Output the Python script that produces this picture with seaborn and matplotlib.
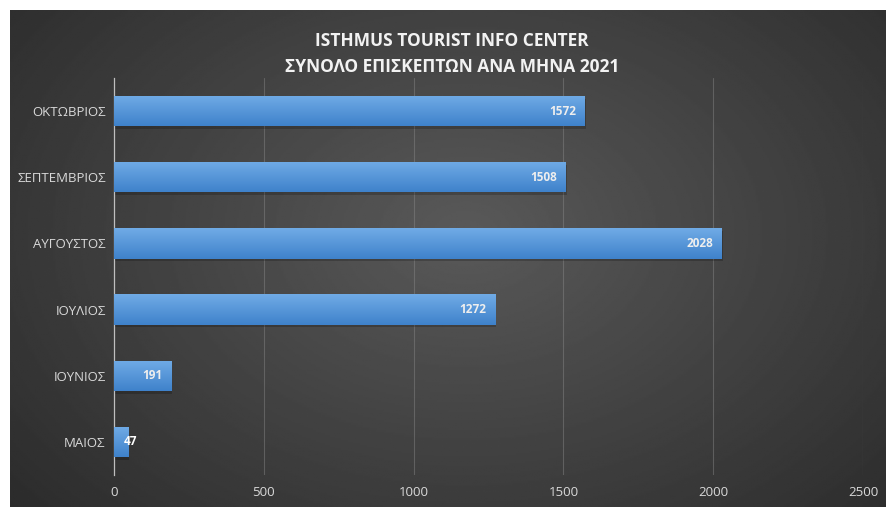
import matplotlib
matplotlib.use("Agg")
import matplotlib.pyplot as plt
import numpy as np
import pandas as pd
import seaborn as sns

MONTHS = ["ΟΚΤΩΒΡΙΟΣ", "ΣΕΠΤΕΜΒΡΙΟΣ", "ΑΥΓΟΥΣΤΟΣ", "ΙΟΥΛΙΟΣ", "ΙΟΥΝΙΟΣ", "ΜΑΙΟΣ"]
VISITORS = [1572, 1508, 2028, 1272, 191, 47]
X_TICKS = [0, 500, 1000, 1500, 2000, 2500]
TITLE = "ISTHMUS TOURIST INFO CENTER\nΣΥΝΟΛΟ ΕΠΙΣΚΕΠΤΩΝ ΑΝΑ ΜΗΝΑ 2021"

W, H = 887, 507

sns.set_theme(style="white")
plt.rcParams["font.family"] = ["Open Sans", "DejaVu Sans"]

df = pd.DataFrame({"month": MONTHS, "visitors": VISITORS})

fig = plt.figure(figsize=(W / 100, H / 100), dpi=100)
fig.patch.set_facecolor("white")

# dark radial background (Excel chart area), white margin top/left
bg = fig.add_axes([10 / W, 0, (W - 10) / W, (H - 10) / H], zorder=0)
gy, gx = np.mgrid[0:1:300j, 0:1:500j]
r = np.sqrt(((gx - 0.52) / 0.65) ** 2 + ((gy - 0.45) / 0.8) ** 2)
shade = np.clip(0.35 - 0.17 * r, 0.15, 0.35)
bg.imshow(shade, cmap="gray", vmin=0, vmax=1, aspect="auto", extent=[0, 1, 0, 1])
bg.set_axis_off()

ax = fig.add_axes([114 / W, 32 / H, (863 - 114) / W, (475 - 78) / H], zorder=1)
ax.patch.set_alpha(0)

sns.barplot(data=df, x="visitors", y="month", orient="h", color="#5b9bd5",
            width=0.46, linewidth=0, edgecolor="none", ax=ax, zorder=3)

# vertical gradient inside each bar + soft shadow underneath
grad = np.linspace(0, 1, 64).reshape(-1, 1)
cmap = matplotlib.colors.LinearSegmentedColormap.from_list("bar", ["#70abe6", "#3f82cb"])
for p in list(ax.patches):
    x0, y0 = p.get_x(), p.get_y()
    w, h = p.get_width(), p.get_height()
    shadow = matplotlib.patches.Rectangle((x0, y0 + 0.04), w + 4, h, color="black",
                                          alpha=0.2, zorder=2, linewidth=0)
    ax.add_patch(shadow)
    im = ax.imshow(grad, cmap=cmap, aspect="auto", extent=[x0, x0 + w, y0 + h, y0],
                   zorder=3.5)
    im.set_clip_path(p)

for i, v in enumerate(VISITORS):
    if v < 100:
        ax.annotate(str(v), (0, i), xytext=(7, 0), textcoords="offset points",
                    ha="left", va="center", color="white", fontsize=8.5,
                    fontweight="bold", zorder=5)
    else:
        ax.annotate(str(v), (v, i), xytext=(-6, 0), textcoords="offset points",
                    ha="right", va="center", color="#eeeeee", fontsize=8.5,
                    fontweight="bold", zorder=5)

ax.set_xlim(0, 2500)
ax.set_ylim(5.5, -0.5)
ax.set_xticks(X_TICKS)
ax.set_xticklabels([str(t) for t in X_TICKS])
ax.tick_params(axis="both", length=0, colors="#d9d9d9", labelsize=9.5)
ax.tick_params(axis="x", pad=8)
ax.tick_params(axis="y", pad=6)
ax.set_xlabel("")
ax.set_ylabel("")
for t in X_TICKS[1:]:
    ax.axvline(t, color="#8a8a8a", linewidth=0.8, alpha=0.45, zorder=1)
for side in ["top", "right", "bottom"]:
    ax.spines[side].set_visible(False)
ax.spines["left"].set_color("#bfbfbf")
ax.spines["left"].set_linewidth(0.9)
ax.grid(False)

fig.text(452 / W, 1 - 54 / H, TITLE, ha="center", va="center", color="#f2f2f2",
         fontsize=12.5, fontweight="bold", linespacing=1.55)

fig.savefig("out.png", dpi=100)
